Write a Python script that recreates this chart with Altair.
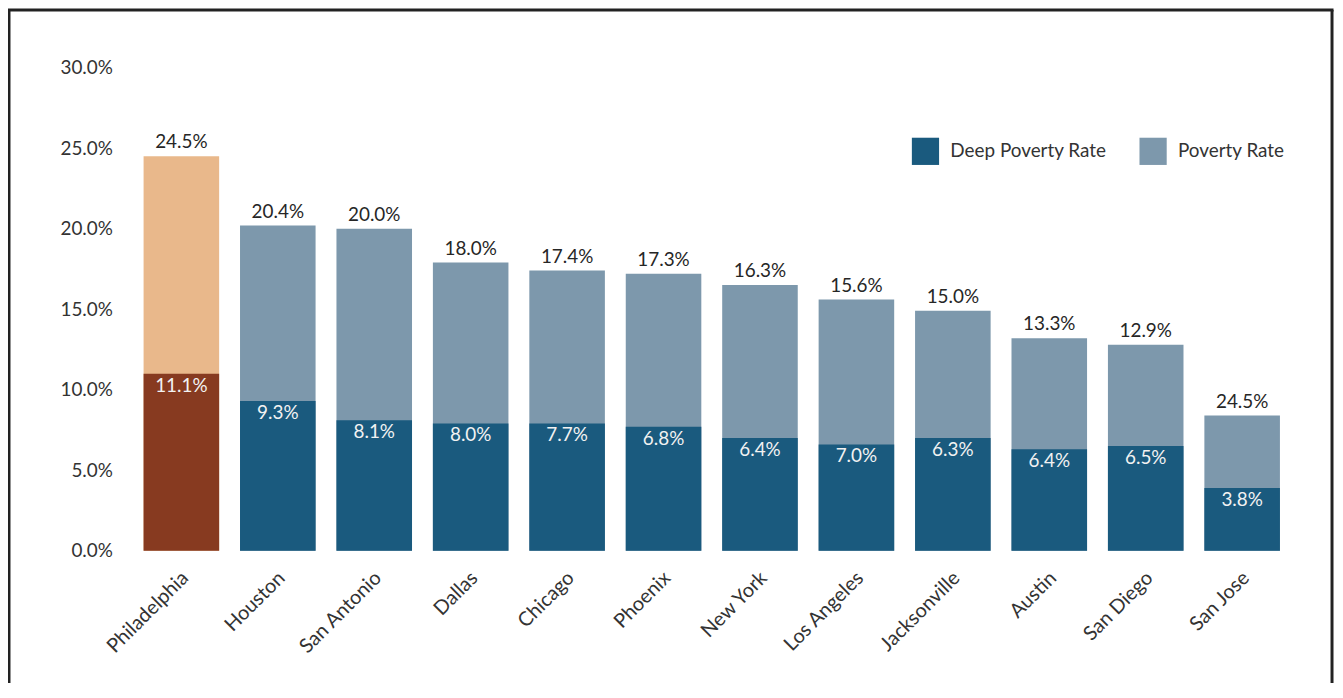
import altair as alt
import pandas as pd

cities = ["Philadelphia", "Houston", "San Antonio", "Dallas", "Chicago", "Phoenix",
          "New York", "Los Angeles", "Jacksonville", "Austin", "San Diego", "San Jose"]
poverty = [24.5, 20.2, 20.0, 17.9, 17.4, 17.2, 16.5, 15.6, 14.9, 13.2, 12.8, 8.4]
deep = [11.0, 9.3, 8.1, 7.9, 7.9, 7.7, 7.0, 6.6, 7.0, 6.3, 6.5, 3.9]
poverty_labels = ["24.5%", "20.4%", "20.0%", "18.0%", "17.4%", "17.3%",
                  "16.3%", "15.6%", "15.0%", "13.3%", "12.9%", "24.5%"]
deep_labels = ["11.1%", "9.3%", "8.1%", "8.0%", "7.7%", "6.8%",
               "6.4%", "7.0%", "6.3%", "6.4%", "6.5%", "3.8%"]
y_ticks = [0, 5, 10, 15, 20, 25, 30]

series_domain = ["Deep Poverty Rate", "Poverty Rate", "Philadelphia Deep", "Philadelphia Poverty"]
series_colors = ["#1a5a7e", "#7d98ac", "#873a20", "#e9b88b"]

rows = []
for c, p, pl in zip(cities, poverty, poverty_labels):
    rows.append({"city": c, "value": p, "label": pl, "kind": "total",
                 "series": "Philadelphia Poverty" if c == "Philadelphia" else "Poverty Rate"})
for c, d, dl in zip(cities, deep, deep_labels):
    rows.append({"city": c, "value": d, "label": dl, "kind": "deep",
                 "series": "Philadelphia Deep" if c == "Philadelphia" else "Deep Poverty Rate"})
df = pd.DataFrame(rows)

FONT = "Lato"
FS = 19
W, H = 1182, 486

x_enc = alt.X("city:N", sort=cities, title=None,
              scale=alt.Scale(paddingInner=0.2165, paddingOuter=0.2),
              axis=alt.Axis(labelAngle=315, labelAlign="right", labelBaseline="middle",
                            labelPadding=24, labelOffset=4, domain=False, ticks=False,
                            labelFontSize=20, labelColor="#333333", labelFont=FONT))
y_enc = alt.Y("value:Q", title=None,
              scale=alt.Scale(domain=[0, 30], nice=False),
              axis=alt.Axis(values=y_ticks, labelExpr="format(datum.value, '.1f') + '%'",
                            domain=False, ticks=False, grid=False, labelPadding=12,
                            labelFontSize=FS, labelColor="#333333", labelFont=FONT))
color_enc = alt.Color("series:N",
                      scale=alt.Scale(domain=series_domain, range=series_colors),
                      legend=alt.Legend(values=["Deep Poverty Rate", "Poverty Rate"],
                                        title=None, orient="none", legendX=792, legendY=70,
                                        direction="horizontal", symbolType="square",
                                        symbolSize=750, symbolStrokeWidth=0,
                                        symbolOpacity=1, labelFontSize=FS, labelFont=FONT,
                                        labelColor="#333333", labelOffset=11,
                                        columnPadding=32))

base = alt.Chart(df)
total_bars = base.transform_filter(alt.datum.kind == "total").mark_bar(opacity=1).encode(
    x=x_enc, y=y_enc, color=color_enc)
deep_bars = base.transform_filter(alt.datum.kind == "deep").mark_bar(opacity=1).encode(
    x=x_enc, y=y_enc, color=color_enc)
total_text = base.transform_filter(alt.datum.kind == "total").mark_text(
    baseline="alphabetic", dy=-8, fontSize=FS, font=FONT, color="#262626").encode(
    x=alt.X("city:N", sort=cities), y="value:Q", text="label:N")
deep_text = base.transform_filter(alt.datum.kind == "deep").mark_text(
    baseline="alphabetic", dy=18, fontSize=FS, font=FONT, color="#f2f2f2").encode(
    x=alt.X("city:N", sort=cities), y="value:Q", text="label:N")

frame_data = pd.DataFrame({"k": [0]})
fL, fR, fT, fB = -116, 1215, -58, 619
frame_left = alt.Chart(frame_data).mark_rule(color="#222222", strokeWidth=3).encode(
    x=alt.value(fL), y=alt.value(fT), y2=alt.value(fB))
frame_right = alt.Chart(frame_data).mark_rule(color="#222222", strokeWidth=3).encode(
    x=alt.value(fR), y=alt.value(fT), y2=alt.value(fB))
frame_top = alt.Chart(frame_data).mark_rule(color="#222222", strokeWidth=3).encode(
    x=alt.value(fL - 1.5), x2=alt.value(fR + 1.5), y=alt.value(fT))

chart = alt.layer(total_bars, deep_bars, total_text, deep_text,
                  frame_left, frame_right, frame_top).properties(
    width=W, height=H, padding={"left": -2, "top": -2, "right": 0, "bottom": 0}
).configure(font=FONT).configure_view(stroke=None, strokeWidth=0)

chart.save("out.html", embed_options={"renderer": "svg", "actions": False})
